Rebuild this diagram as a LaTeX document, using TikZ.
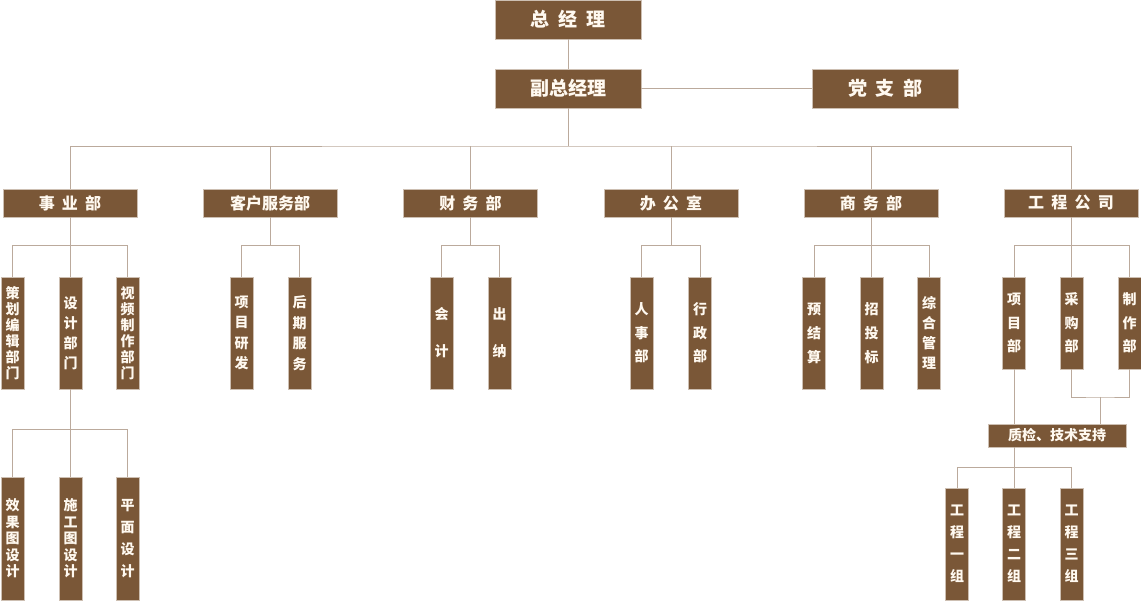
\documentclass[tikz,border=0pt]{standalone}
\usepackage{fontspec}
\newfontfamily\cjk{Noto Sans CJK SC}
\definecolor{boxbrown}{HTML}{7A5737}
\definecolor{boxedge}{HTML}{CDBFB2}
\definecolor{linegray}{HTML}{BBAA9C}
\definecolor{textcream}{HTML}{FFF9F0}
\newcommand{\gap}{\hspace{.45em}}
\begin{document}
\begin{tikzpicture}[x=1pt,y=-1pt,
	every node/.style={fill=boxbrown,draw=boxedge,line width=.5pt,text=textcream,inner sep=0pt},
	head/.style={minimum width=146pt,minimum height=39pt,font=\cjk\bfseries\fontsize{19}{19}\selectfont},
	dept/.style={minimum width=134pt,minimum height=28pt,font=\cjk\bfseries\fontsize{16}{16}\selectfont},
	post/.style={minimum width=23pt,minimum height=#1,align=center},
	vgap/.style={font=\cjk\bfseries\fontsize{14}{#1}\selectfont},
	link/.style={draw=linegray,line width=.8pt}]
\useasboundingbox (0,0) rectangle (1141,601);
% top
\node[head] (gm) at (568,19.5) {总\gap 经\gap 理};
\node[head] (vgm) at (568,88.5) {副总经理};
\node[head] (party) at (885.5,88.5) {党\gap 支\gap 部};
\coordinate (bus) at (568,146);
% departments
\node[dept] (d1) at (70,203) {事\gap 业\gap 部};
\node[dept] (d2) at (270,203) {客户服务部};
\node[dept] (d3) at (470.5,203) {财\gap 务\gap 部};
\node[dept] (d4) at (671,203) {办\gap 公\gap 室};
\node[dept] (d5) at (871,203) {商\gap 务\gap 部};
\node[dept] (d6) at (1071,203) {工\gap 程\gap 公\gap 司};
% posts
\node[post=112pt,vgap=16pt] (p11) at (12.5,333) {策\\划\\编\\辑\\部\\门};
\node[post=112pt,vgap=20pt] (p12) at (70.5,333) {设\\计\\部\\门};
\node[post=112pt,vgap=16pt] (p13) at (127.5,333) {视\\频\\制\\作\\部\\门};
\node[post=112pt,vgap=20.5pt] (p21) at (241.5,333) {项\\目\\研\\发};
\node[post=112pt,vgap=20.5pt] (p22) at (299.5,333) {后\\期\\服\\务};
\node[post=112pt,vgap=37pt] (p31) at (441.5,333) {会\\计};
\node[post=112pt,vgap=37pt] (p32) at (499.5,333) {出\\纳};
\node[post=112pt,vgap=23.5pt] (p41) at (641.5,333) {人\\事\\部};
\node[post=112pt,vgap=23.5pt] (p42) at (700,333) {行\\政\\部};
\node[post=112pt,vgap=24pt] (p51) at (814,333) {预\\结\\算};
\node[post=112pt,vgap=24pt] (p52) at (871.5,333) {招\\投\\标};
\node[post=112pt,vgap=20pt] (p53) at (929,333) {综\\合\\管\\理};
\node[post=92pt,vgap=23.5pt] (e1) at (1014,323) {项\\目\\部};
\node[post=92pt,vgap=23.5pt] (e2) at (1071.5,323) {采\\购\\部};
\node[post=92pt,vgap=23.5pt] (e3) at (1129.5,323) {制\\作\\部};
% design sub teams
\node[post=123pt,vgap=16.5pt] (s1) at (12.5,538.5) {效\\果\\图\\设\\计};
\node[post=123pt,vgap=16.5pt] (s2) at (70.5,538.5) {施\\工\\图\\设\\计};
\node[post=123pt,vgap=22pt] (s3) at (127.5,538.5) {平\\面\\设\\计};
% quality and groups
\node[minimum width=138pt,minimum height=23pt,font=\cjk\bfseries\fontsize{14}{14}\selectfont] (qc) at (1057,435.5) {质检、技术支持};
\node[post=112pt,vgap=22pt] (g1) at (957,544) {工\\程\\一\\组};
\node[post=112pt,vgap=22pt] (g2) at (1014,544) {工\\程\\二\\组};
\node[post=112pt,vgap=22pt] (g3) at (1071.5,544) {工\\程\\三\\组};
\coordinate (merge) at (1100,397);
\coordinate (gbus) at (1014,467);
% connectors
\draw[link] (gm) -- (vgm);
\draw[link] (vgm) -- (party);
\draw[link] (vgm) -- (bus);
\draw[link] (d1) |- (bus) -| (d6);
\foreach \d in {d2,d3,d4,d5}
	\draw[link] (\d) -- (\d |- bus);
\foreach \p/\c in {d1/p11,d1/p12,d1/p13,d2/p21,d2/p22,d3/p31,d3/p32,d4/p41,d4/p42,
		d5/p51,d5/p52,d5/p53,d6/e1,d6/e2,d6/e3}
	\draw[link] (\p) -- ++(0,42) -| (\c);
\foreach \c in {s1,s2,s3}
	\draw[link] (p12) -- ++(0,96) -| (\c);
\draw[link] (e1) -- (e1 |- qc.north);
\draw[link] (e2) |- (merge) -| (e3);
\draw[link] (merge) -- (merge |- qc.north);
\draw[link] (qc.south -| e1) -- (gbus);
\foreach \c in {g1,g2,g3}
	\draw[link] (gbus) -| (\c);
\end{tikzpicture}
\end{document}
